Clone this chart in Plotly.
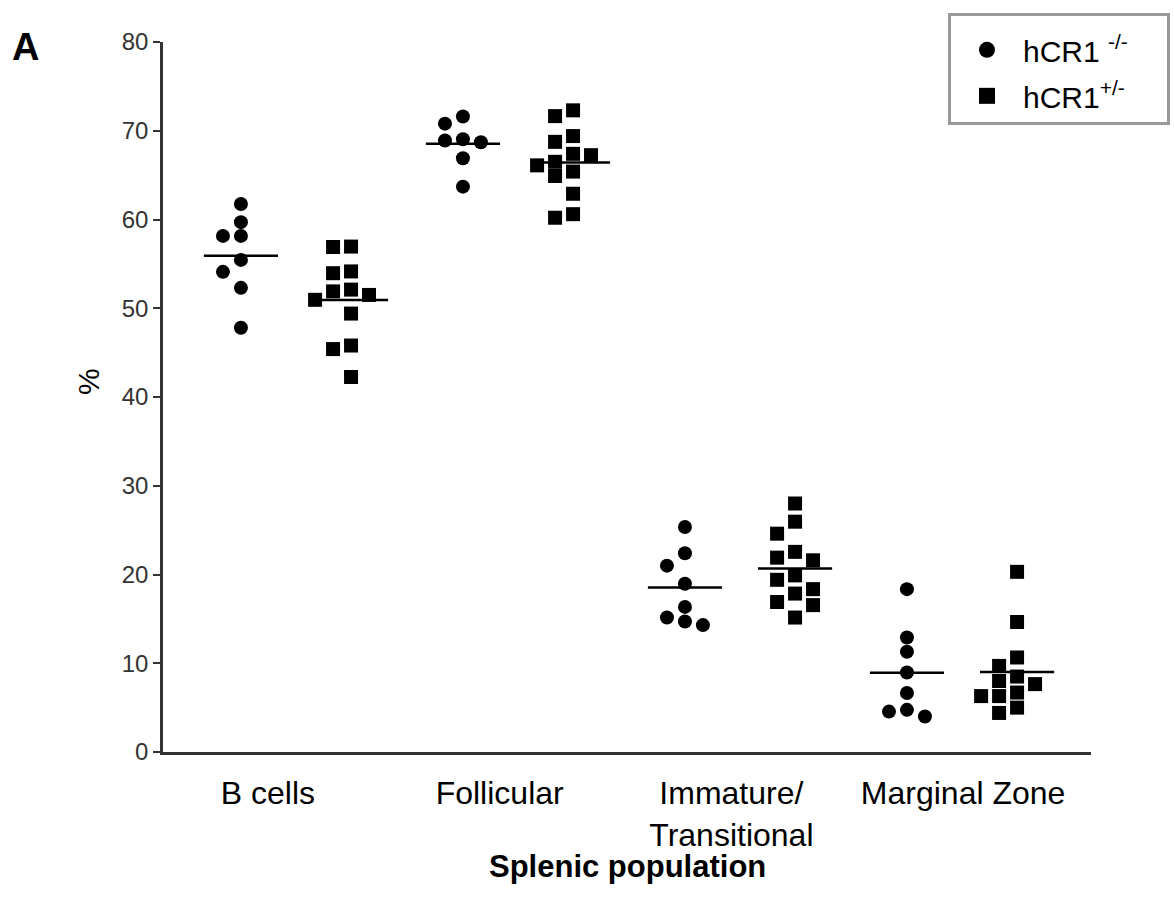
import plotly.graph_objects as go

# ---- data ----
categories = ["B cells", "Follicular", "Immature/<br>Transitional", "Marginal Zone"]
series_names = ["hCR1 <sup>-/-</sup>", "hCR1<sup>+/-</sup>"]

bcells_ko = [61.75, 59.7, 58.15, 58.15, 55.45, 54.1, 52.3, 47.8]
bcells_het = [56.95, 56.9, 54.15, 53.95, 52.1, 51.9, 51.5, 50.95, 49.4, 45.8, 45.4, 42.25]
foll_ko = [71.6, 70.8, 69.05, 68.9, 68.7, 66.9, 63.7]
foll_het = [72.3, 71.65, 69.4, 68.75, 67.4, 67.25, 66.5, 66.1, 65.4, 64.9, 62.9, 60.6, 60.2]
imm_ko = [25.35, 22.4, 21.0, 18.95, 16.35, 15.15, 14.7, 14.3]
imm_het = [28.0, 25.95, 24.6, 22.55, 21.9, 21.6, 19.9, 19.4, 18.35, 17.85, 16.9, 16.55, 15.15]
mz_ko = [18.35, 12.9, 11.3, 8.95, 6.65, 4.75, 4.55, 4.0]
mz_het = [20.3, 14.65, 10.65, 9.7, 8.5, 8.0, 7.65, 6.7, 6.3, 6.3, 5.0, 4.4]

y_ticks = [0, 10, 20, 30, 40, 50, 60, 70, 80]

ko_groups = [bcells_ko, foll_ko, imm_ko, mz_ko]
het_groups = [bcells_het, foll_het, imm_het, mz_het]

# ---- layout constants ----
COL_OFF = 0.248      # half distance between the two columns of a group
SLOT = 0.081         # horizontal spacing of overlapping points
MEAN_HALF = 0.167    # half length of mean bar
THR = 1.55           # vertical overlap threshold (data units)
NBSP = "\u00a0" * 4  # right padding inside the legend box


def swarm_slots(vals):
    order = sorted(range(len(vals)), key=lambda k: -vals[k])
    placed = []
    slots = [0] * len(vals)
    for k in order:
        v = vals[k]
        for s in [0, -1, 1, -2, 2, -3, 3]:
            if all(not (ps == s and abs(pv - v) < THR) for ps, pv in placed):
                break
        placed.append((s, v))
        slots[k] = s
    return slots


def build(groups, sign):
    xs, ys, mx, my = [], [], [], []
    for i, vals in enumerate(groups):
        c = i + sign * COL_OFF
        for v, s in zip(vals, swarm_slots(vals)):
            xs.append(c + s * SLOT)
            ys.append(v)
        m = sum(vals) / len(vals)
        mx += [c - MEAN_HALF, c + MEAN_HALF, None]
        my += [m, m, None]
    return xs, ys, mx, my


fig = go.Figure()
for groups, sign, sym in [(ko_groups, -1, "circle"), (het_groups, 1, "square")]:
    xs, ys, mx, my = build(groups, sign)
    fig.add_trace(go.Scatter(x=xs, y=ys, mode="markers", showlegend=False,
                             marker=dict(symbol=sym, size=14, color="black")))
    fig.add_trace(go.Scatter(x=mx, y=my, mode="lines", showlegend=False,
                             line=dict(color="black", width=2.5)))

# legend-only traces
for k, (name, sym) in enumerate(zip(series_names, ["circle", "square"])):
    fig.add_trace(go.Scatter(x=[None], y=[None], mode="markers", name=name + NBSP,
                             legendgroup="g%d" % k,
                             marker=dict(symbol=sym, size=22, color="black")))

# invisible trace to carry category axis
fig.add_trace(go.Scatter(x=[0, 3], y=[None, None], xaxis="x2", mode="markers",
                         showlegend=False, hoverinfo="skip"))

fig.update_layout(
    width=1174, height=907,
    margin=dict(l=163, r=83, t=42, b=155, autoexpand=False),
    paper_bgcolor="white", plot_bgcolor="white",
    font=dict(family="Liberation Sans, Arial, sans-serif", color="black"),
    xaxis=dict(range=[-0.599, 3.581], showline=True, linecolor="#333", linewidth=2.5,
               showticklabels=False, ticks="", showgrid=False, zeroline=False),
    xaxis2=dict(overlaying="x", anchor="y", side="bottom",
                range=[-0.453, 3.552], tickvals=[0, 1, 2, 3], ticktext=categories,
                tickfont=dict(size=32, color="black"), showline=False, ticks="",
                ticklabelstandoff=19,
                showgrid=False, zeroline=False),
    yaxis=dict(range=[0, 80], tickvals=y_ticks, showline=True, linecolor="#333",
               linewidth=2.5, ticks="outside", ticklen=7, tickwidth=2, tickcolor="#333",
               tickfont=dict(size=24, color="#333"), showgrid=False, zeroline=False),
    legend=dict(x=1.0851, xanchor="right", y=1.0408, yanchor="top",
                bgcolor="white", bordercolor="#999", borderwidth=3,
                font=dict(size=30, color="black"), itemsizing="trace",
                itemwidth=62, tracegroupgap=4,
                title=dict(text="\u00a0", font=dict(size=6))),
    annotations=[
        dict(text="<b>A</b>", x=-0.1648, y=0.993, xref="paper", yref="paper",
             xanchor="left", yanchor="middle", showarrow=False,
             font=dict(size=38, color="black")),
        dict(text="%", x=-0.0808, y=0.521, xref="paper", yref="paper",
             xanchor="center", yanchor="middle", textangle=-90, showarrow=False,
             font=dict(size=30, color="black")),
        dict(text="<b>Splenic population</b>", x=0.5, y=-0.1606, xref="paper", yref="paper",
             xanchor="center", yanchor="middle", showarrow=False,
             font=dict(size=31, color="black")),
    ],
)

fig.write_html("out.html", config={"displayModeBar": False},
               post_script="document.body.style.margin='0';document.body.style.overflow='hidden';")
